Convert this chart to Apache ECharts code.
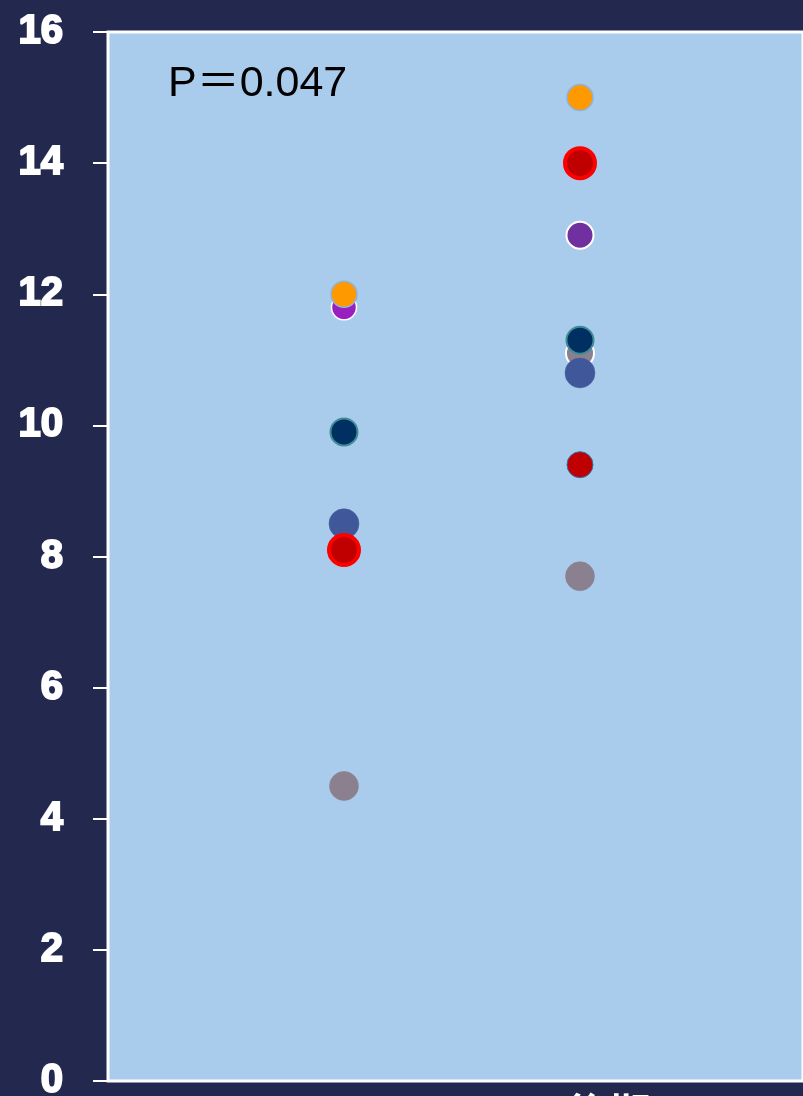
<!DOCTYPE html>
<html>
<head>
<meta charset="utf-8">
<script src="https://cdn.jsdelivr.net/npm/echarts@6/dist/echarts.min.js"></script>
<style>
  html, body { margin: 0; padding: 0; background: #23284f; }
  #chart { width: 803px; height: 1096px; }
</style>
</head>
<body>
<div id="chart"></div>
<script>
// Two measurement periods, one dot per subject and period
const categories = ['前期', '後期'];
const yTicks = [0, 2, 4, 6, 8, 10, 12, 14, 16];
const pText = 'P＝0.047';

// values per subject: [前期, 後期] (null = not shown)
const greyRing   = [null, 11.1];
const magenta    = [11.8, null];
const orange     = [12.0, 15.0];
const navy       = [9.9, 11.3];
const blue       = [8.5, 10.8];
const redRing    = [8.1, 14.0];
const purple     = [null, 12.9];
const darkRed    = [null, 9.4];
const grey       = [4.5, 7.7];

const styles = [
  { name: 'greyRing', values: greyRing, size: 28, color: '#8b808f', border: '#ffffff', bw: 2 },
  { name: 'magenta',  values: magenta,  size: 25, color: '#9a1fc0', border: '#ffffff', bw: 1.5 },
  { name: 'orange',   values: orange,   size: 26, color: '#ff9900', border: '#8fb2da', bw: 1.5 },
  { name: 'navy',     values: navy,     size: 27, color: '#002f62', border: '#3f8c97', bw: 2 },
  { name: 'blue',     values: blue,     size: 30, color: '#405899', border: '#4a619e', bw: 0.5 },
  { name: 'redRing',  values: redRing,  size: 30, color: '#c00000', border: '#ff0000', bw: 4 },
  { name: 'purple',   values: purple,   size: 27, color: '#7030a0', border: '#ffffff', bw: 2 },
  { name: 'darkRed',  values: darkRed,  size: 26, color: '#c00000', border: '#2f6fb5', bw: 1 },
  { name: 'grey',     values: grey,     size: 29, color: '#8b808f', border: '#8b808f', bw: 0.5 }
];

const series = styles.map(s => ({
  name: s.name,
  type: 'scatter',
  symbol: 'circle',
  symbolSize: s.size,
  itemStyle: { color: s.color, borderColor: s.border, borderWidth: s.bw, opacity: 1 },
  data: s.values
    .map((v, i) => (v === null ? null : [i + 1, v]))
    .filter(d => d !== null),
  silent: true
}));

const chart = echarts.init(document.getElementById('chart'), null, { renderer: 'canvas' });
chart.setOption({
  backgroundColor: '#23284f',
  animation: false,
  grid: {
    left: 108, top: 32, right: 0, bottom: 15,
    outerBoundsMode: 'none',
    containLabel: false,
    show: true,
    backgroundColor: '#a9cbec',
    borderColor: '#ffffff',
    borderWidth: 3
  },
  xAxis: {
    type: 'value',
    // plot runs past the right edge; one period step is about 236px
    min: 0, max: 2.945,
    show: false
  },
  yAxis: {
    type: 'value',
    min: yTicks[0], max: yTicks[yTicks.length - 1], interval: 2,
    axisLine: { show: false },
    splitLine: { show: false },
    axisTick: { show: true, inside: false, length: 15, lineStyle: { color: '#ffffff', width: 2 } },
    axisLabel: {
      color: '#ffffff',
      fontSize: 40,
      fontWeight: 900,
      fontFamily: 'Liberation Sans, Arial, sans-serif',
      margin: 45,
      textBorderColor: '#ffffff',
      textBorderWidth: 2
    }
  },
  graphic: [
    {
      type: 'text', left: 168, top: 63,
      style: { text: pText, fill: '#000000', fontSize: 43, fontFamily: 'Liberation Sans, Noto Sans CJK JP, sans-serif' }
    },
    {
      type: 'text', left: 567, top: 1092,
      style: { text: categories[1], fill: '#ffffff', fontSize: 42, fontWeight: 'bold', fontFamily: 'Noto Sans CJK JP, sans-serif' }
    }
  ],
  series: series
});
</script>
</body>
</html>
